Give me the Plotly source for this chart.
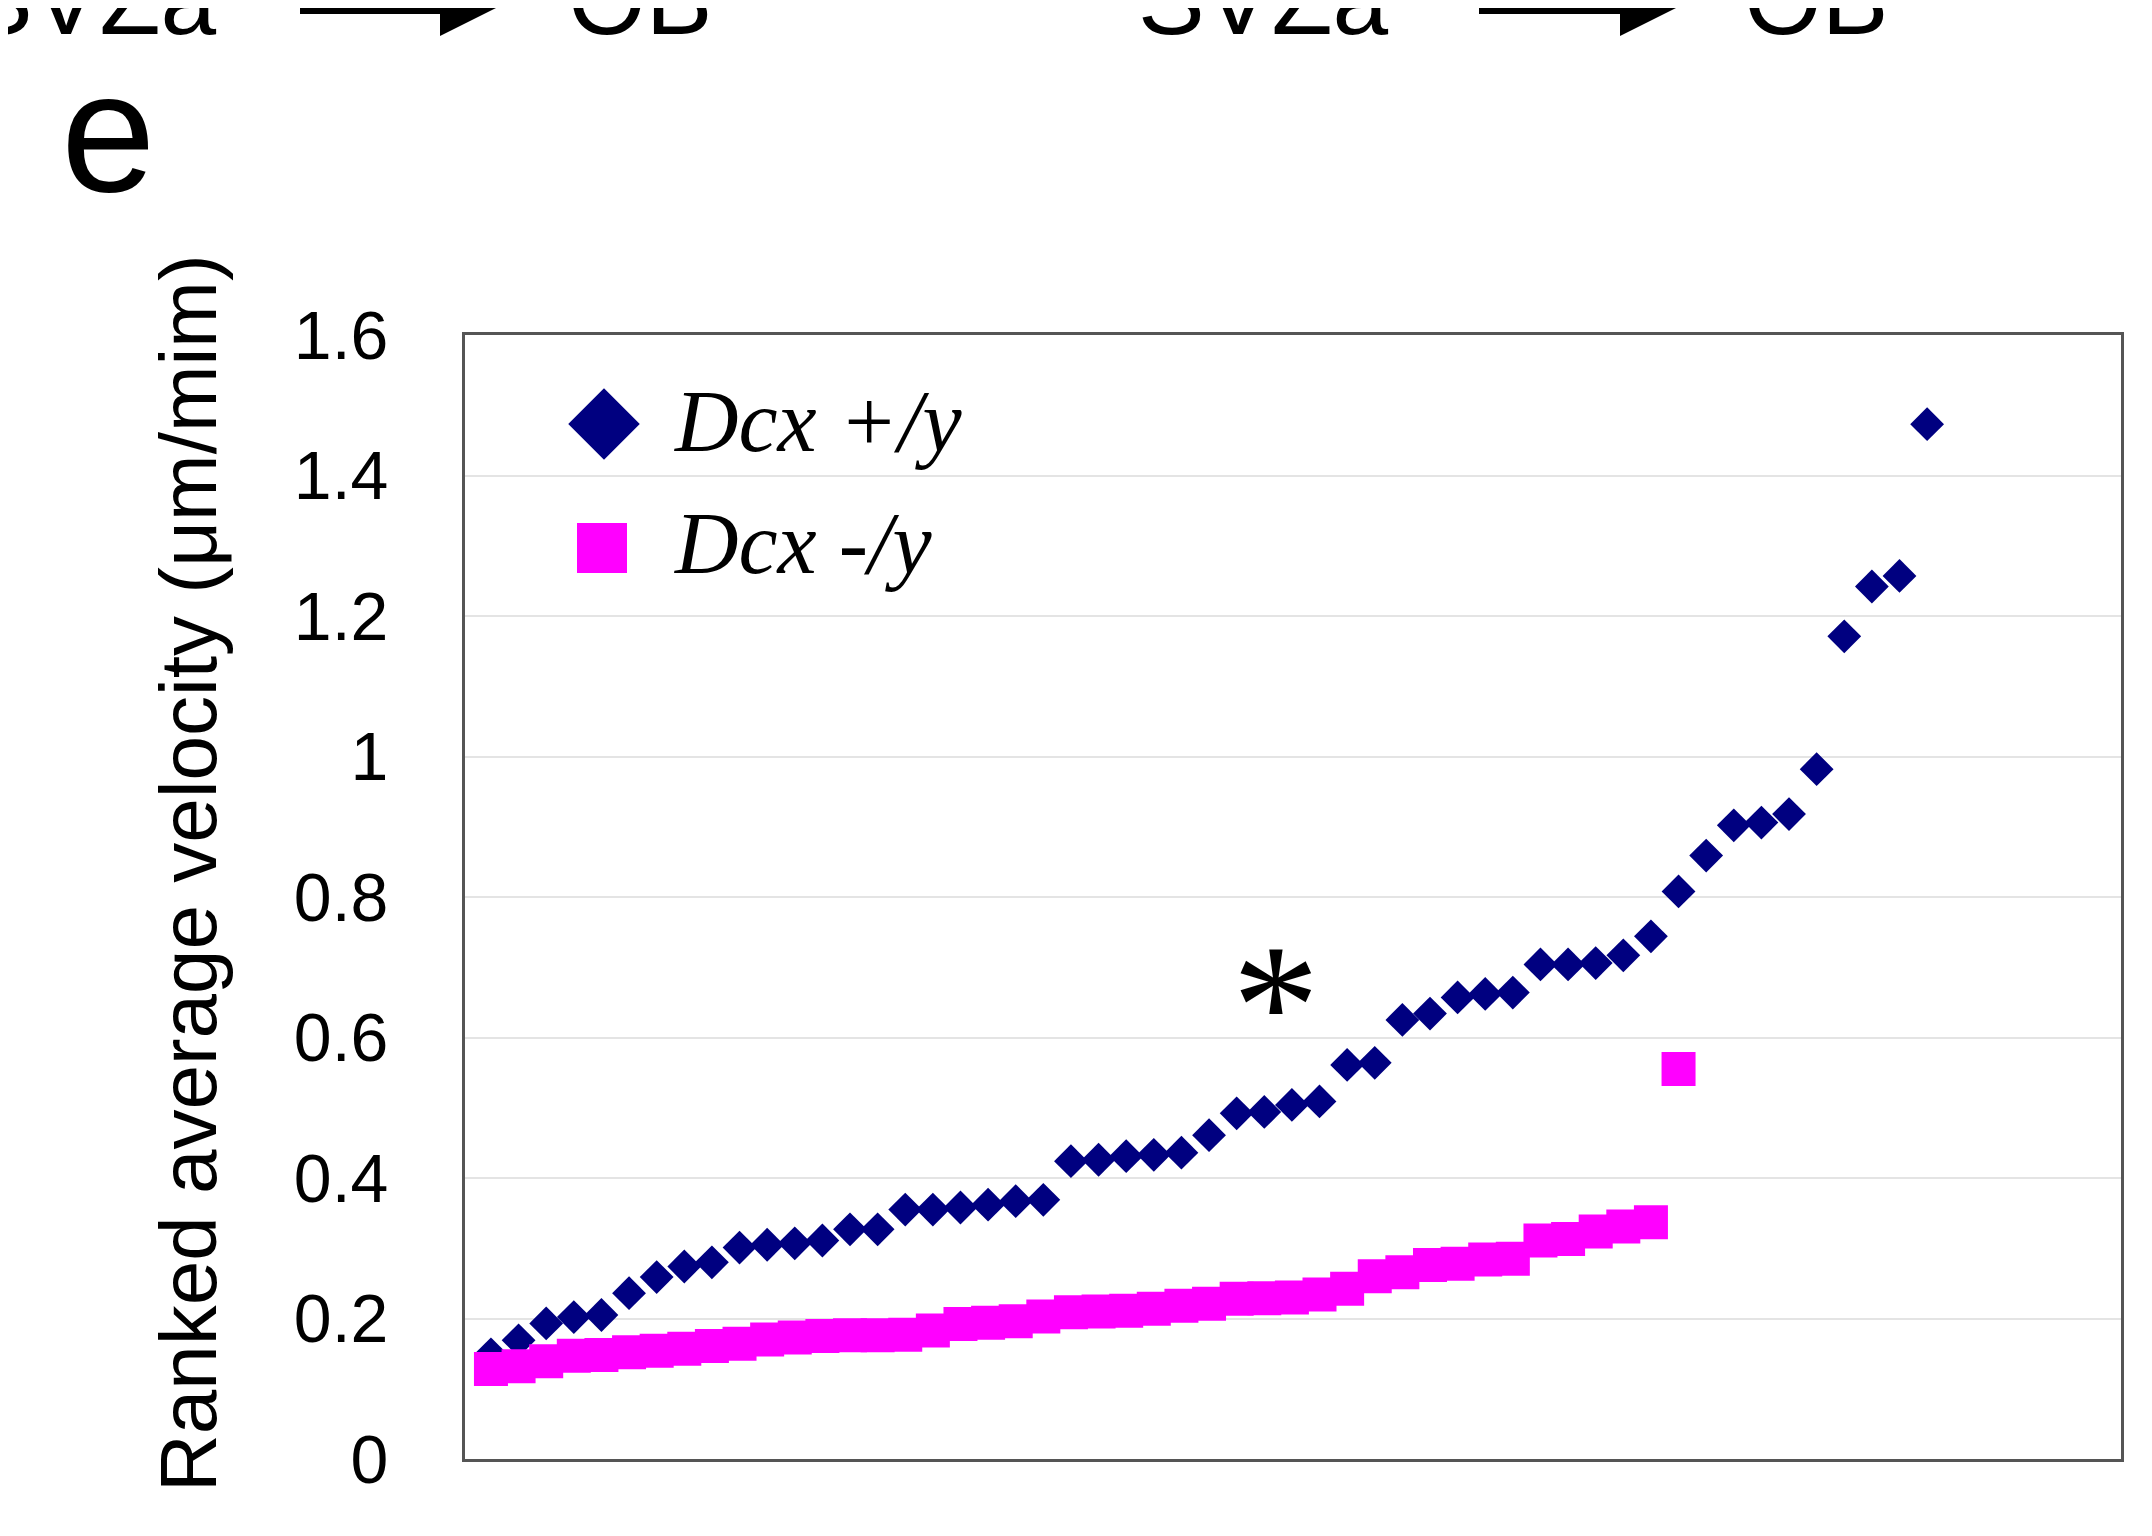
import plotly.graph_objects as go

# ---------------- data ----------------
dcx_wt = [0.149, 0.169, 0.193, 0.202, 0.205, 0.236, 0.259, 0.274, 0.280, 0.301,
          0.305, 0.307, 0.311, 0.327, 0.327, 0.355, 0.355, 0.358, 0.362, 0.367,
          0.369, 0.424, 0.426, 0.431, 0.433, 0.436, 0.461, 0.492, 0.494, 0.504,
          0.509, 0.561, 0.564, 0.625, 0.634, 0.657, 0.662, 0.664, 0.704, 0.704,
          0.706, 0.717, 0.744, 0.808, 0.859, 0.902, 0.906, 0.918, 0.982, 1.171,
          1.242, 1.257, 1.473]
dcx_ko = [0.128, 0.132, 0.139, 0.147, 0.148, 0.152, 0.154, 0.157, 0.161, 0.164,
          0.170, 0.173, 0.175, 0.176, 0.176, 0.177, 0.183, 0.192, 0.194, 0.196,
          0.203, 0.209, 0.210, 0.211, 0.214, 0.218, 0.221, 0.228, 0.229, 0.230,
          0.234, 0.2425, 0.260, 0.266, 0.276, 0.278, 0.284, 0.285, 0.311, 0.313,
          0.324, 0.331, 0.337, 0.555]
rank_wt = list(range(1, len(dcx_wt) + 1))
rank_ko = list(range(1, len(dcx_ko) + 1))

y_tickvals = [0, 0.2, 0.4, 0.6, 0.8, 1.0, 1.2, 1.4, 1.6]
y_ticktext = ["0", "0.2", "0.4", "0.6", "0.8", "1", "1.2", "1.4", "1.6"]

series_names = ["Dcx +/y", "Dcx -/y"]
y_title = "Ranked average velocity (μm/mim)"
panel_label = "e"
top_labels = ["SVZa", "OB", "SVZa", "OB"]

# ---------------- layout geometry ----------------
W, H = 2152, 1536
L, R, T, B = 457, 2113, 327, 1451


def pxx(x):
    return (x - L) / (R - L)


def pxy(y):
    return (B - y) / (B - T)


NAVY = "#000080"
MAGENTA = "#ff00ff"

fig = go.Figure()

fig.add_trace(go.Scatter(
    x=rank_wt, y=dcx_wt, mode="markers", name=series_names[0],
    marker=dict(symbol="diamond", size=26, color=NAVY, line=dict(width=0)),
    showlegend=False, cliponaxis=False))
fig.add_trace(go.Scatter(
    x=rank_ko, y=dcx_ko, mode="markers", name=series_names[1],
    marker=dict(symbol="square", size=34, color=MAGENTA, line=dict(width=0)),
    showlegend=False, cliponaxis=False))

# legend markers on an overlay axis
fig.add_trace(go.Scatter(
    x=[pxx(596)], y=[pxy(416)], xaxis="x2", yaxis="y2", mode="markers",
    marker=dict(symbol="diamond", size=55, color=NAVY, line=dict(width=0)),
    showlegend=False, hoverinfo="skip"))
fig.add_trace(go.Scatter(
    x=[pxx(594)], y=[pxy(540)], xaxis="x2", yaxis="y2", mode="markers",
    marker=dict(symbol="square", size=50, color=MAGENTA, line=dict(width=0)),
    showlegend=False, hoverinfo="skip"))

annotations = []
legend_font = dict(family="Liberation Serif", size=88, color="black")
annotations.append(dict(xref="paper", yref="paper", x=pxx(664), y=pxy(414),
                        xanchor="left", yanchor="middle", showarrow=False,
                        text="<i>" + series_names[0] + "</i>", font=legend_font))
annotations.append(dict(xref="paper", yref="paper", x=pxx(664), y=pxy(535),
                        xanchor="left", yanchor="middle", showarrow=False,
                        text="<i>" + series_names[1] + "</i>", font=legend_font))

# asterisk
annotations.append(dict(xref="paper", yref="paper", x=pxx(1268), y=pxy(998),
                        xanchor="center", yanchor="middle", showarrow=False,
                        text="*", font=dict(family="Liberation Serif", size=175, color="black")))

# y axis title
annotations.append(dict(xref="paper", yref="paper", x=pxx(180), y=pxy(865),
                        xanchor="center", yanchor="middle", showarrow=False,
                        textangle=-90, text=y_title,
                        font=dict(family="Liberation Sans", size=80, color="black")))

# panel label
annotations.append(dict(xref="paper", yref="paper", x=pxx(100), y=pxy(124),
                        xanchor="center", yanchor="middle", showarrow=False,
                        text=panel_label,
                        font=dict(family="Liberation Sans", size=170, color="black")))

# cut-off text at the top
top_x = [83, 632, 1255, 1808]
for lab, cx in zip(top_labels, top_x):
    annotations.append(dict(xref="paper", yref="paper", x=pxx(cx), y=pxy(-9),
                            xanchor="center", yanchor="middle", showarrow=False,
                            text=lab,
                            font=dict(family="Liberation Sans", size=100, color="black")))

shapes = []
for x0, x1 in [(292, 494), (1471, 1674)]:
    head = 62
    yc = -3
    shapes.append(dict(type="line", xref="paper", yref="paper",
                       x0=pxx(x0), x1=pxx(x1 - head + 4), y0=pxy(yc), y1=pxy(yc),
                       line=dict(color="black", width=18)))
    path = "M {} {} L {} {} L {} {} Z".format(
        pxx(x1 - head), pxy(yc - 31), pxx(x1), pxy(yc), pxx(x1 - head), pxy(yc + 31))
    shapes.append(dict(type="path", xref="paper", yref="paper", path=path,
                       fillcolor="black", line=dict(width=0)))

fig.update_layout(
    width=W, height=H,
    margin=dict(l=L, r=W - R, t=T, b=H - B, pad=0),
    paper_bgcolor="white", plot_bgcolor="white",
    xaxis=dict(range=[0.06, 60.02], showgrid=False, zeroline=False,
               showticklabels=False, ticks="", showline=True, mirror=True,
               linecolor="#555555", linewidth=3),
    yaxis=dict(range=[0, 1.6], tickvals=y_tickvals, ticktext=y_ticktext,
               showgrid=True, gridcolor="#e4e4e4", gridwidth=1.5,
               zeroline=False, ticks="", showline=True, mirror=True,
               linecolor="#555555", linewidth=3, ticklabelstandoff=60,
               tickfont=dict(family="Liberation Sans", size=68, color="black")),
    xaxis2=dict(overlaying="x", range=[0, 1], visible=False),
    yaxis2=dict(overlaying="y", range=[0, 1], visible=False),
    annotations=annotations,
    shapes=shapes,
    showlegend=False,
)

fig.write_html("out.html")
